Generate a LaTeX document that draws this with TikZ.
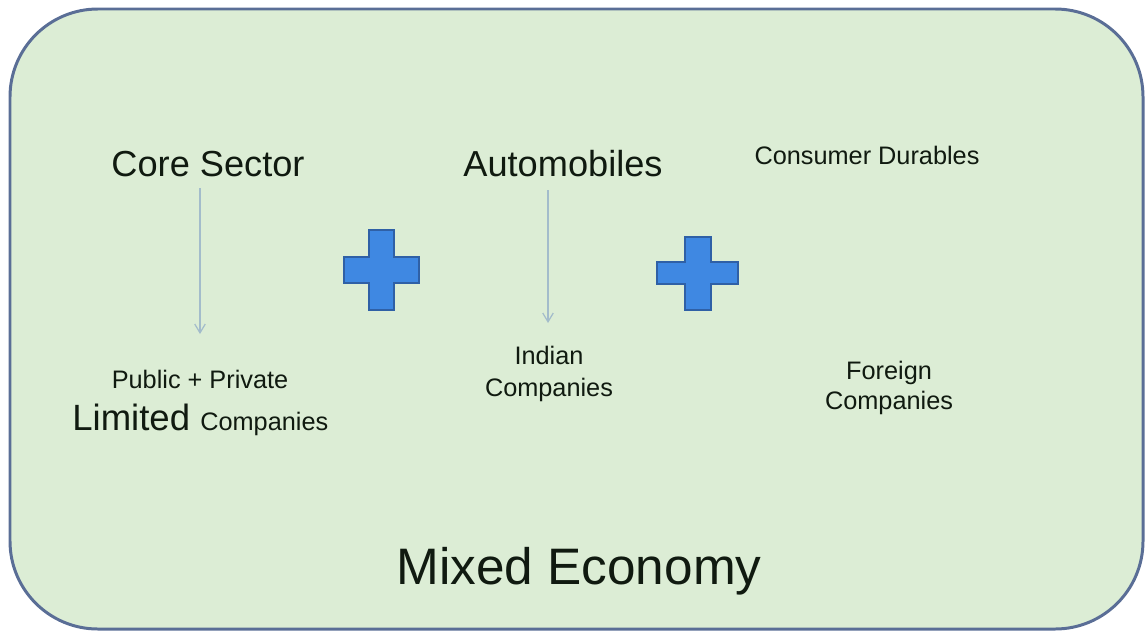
\documentclass[tikz,border=0pt]{standalone}
\usepackage{fontspec}
\setmainfont{Liberation Sans}
\usetikzlibrary{arrows.meta}
\definecolor{boxfill}{HTML}{DCEDD5}
\definecolor{boxline}{HTML}{5A6E96}
\definecolor{plusfill}{HTML}{3F88E2}
\definecolor{plusline}{HTML}{2F60A6}
\definecolor{arrcol}{HTML}{A3BCCB}
\definecolor{txt}{HTML}{101A10}
\tikzset{
  lbl/.style={inner sep=0pt, text=txt, anchor=base},
  big/.style={lbl, font=\fontsize{20.6}{24}\selectfont},
  small/.style={lbl, font=\fontsize{14.4}{18}\selectfont},
  arr/.style={draw=arrcol, line width=0.7pt, -{Straight Barb[length=5pt,width=6pt]}},
  plus/.style={fill=plusfill, draw=plusline, line width=0.8pt, line join=miter}
}
\begin{document}
\begin{tikzpicture}[x=0.02cm, y=-0.02cm]
\useasboundingbox (0,0) rectangle (1145,632);
% frame
\draw[fill=boxfill, draw=boxline, line width=1.7pt, rounded corners=50pt]
  (10,9) rectangle (1143,629);
% titles
\node[big] (core) at (208,176) {Core Sector};
\node[big] (auto) at (563,176) {Automobiles};
\node[small] (cons) at (867,164) {Consumer Durables};
% lower texts
\node[small] (pub) at (200,388) {Public + Private};
\node[lbl, anchor=base west] (lim) at (72,430) {\fontsize{20.8}{24}\selectfont Limited\ \fontsize{14.4}{18}\selectfont Companies};
\node[small] (ind1) at (549,364) {Indian};
\node[small] (ind2) at (549,396) {Companies};
\node[small] (for1) at (889,379) {Foreign};
\node[small] (for2) at (889,409) {Companies};
\node[lbl, font=\fontsize{29.2}{34}\selectfont] (mixed) at (579,584) {Mixed Economy};
% arrows
\coordinate (a1s) at (200,188);
\coordinate (a1e) at (200,334);
\coordinate (a2s) at (548,190);
\coordinate (a2e) at (548,323);
\draw[arr] (a1s) -- (a1e);
\draw[arr] (a2s) -- (a2e);
% plus signs
\draw[plus] (369,230) -- (394,230) -- (394,257) -- (419,257) -- (419,283) -- (394,283)
  -- (394,310) -- (369,310) -- (369,283) -- (344,283) -- (344,257) -- (369,257) -- cycle;
\draw[plus] (685,237) -- (711,237) -- (711,262) -- (738,262) -- (738,284) -- (711,284)
  -- (711,310) -- (685,310) -- (685,284) -- (657,284) -- (657,262) -- (685,262) -- cycle;
\end{tikzpicture}
\end{document}
